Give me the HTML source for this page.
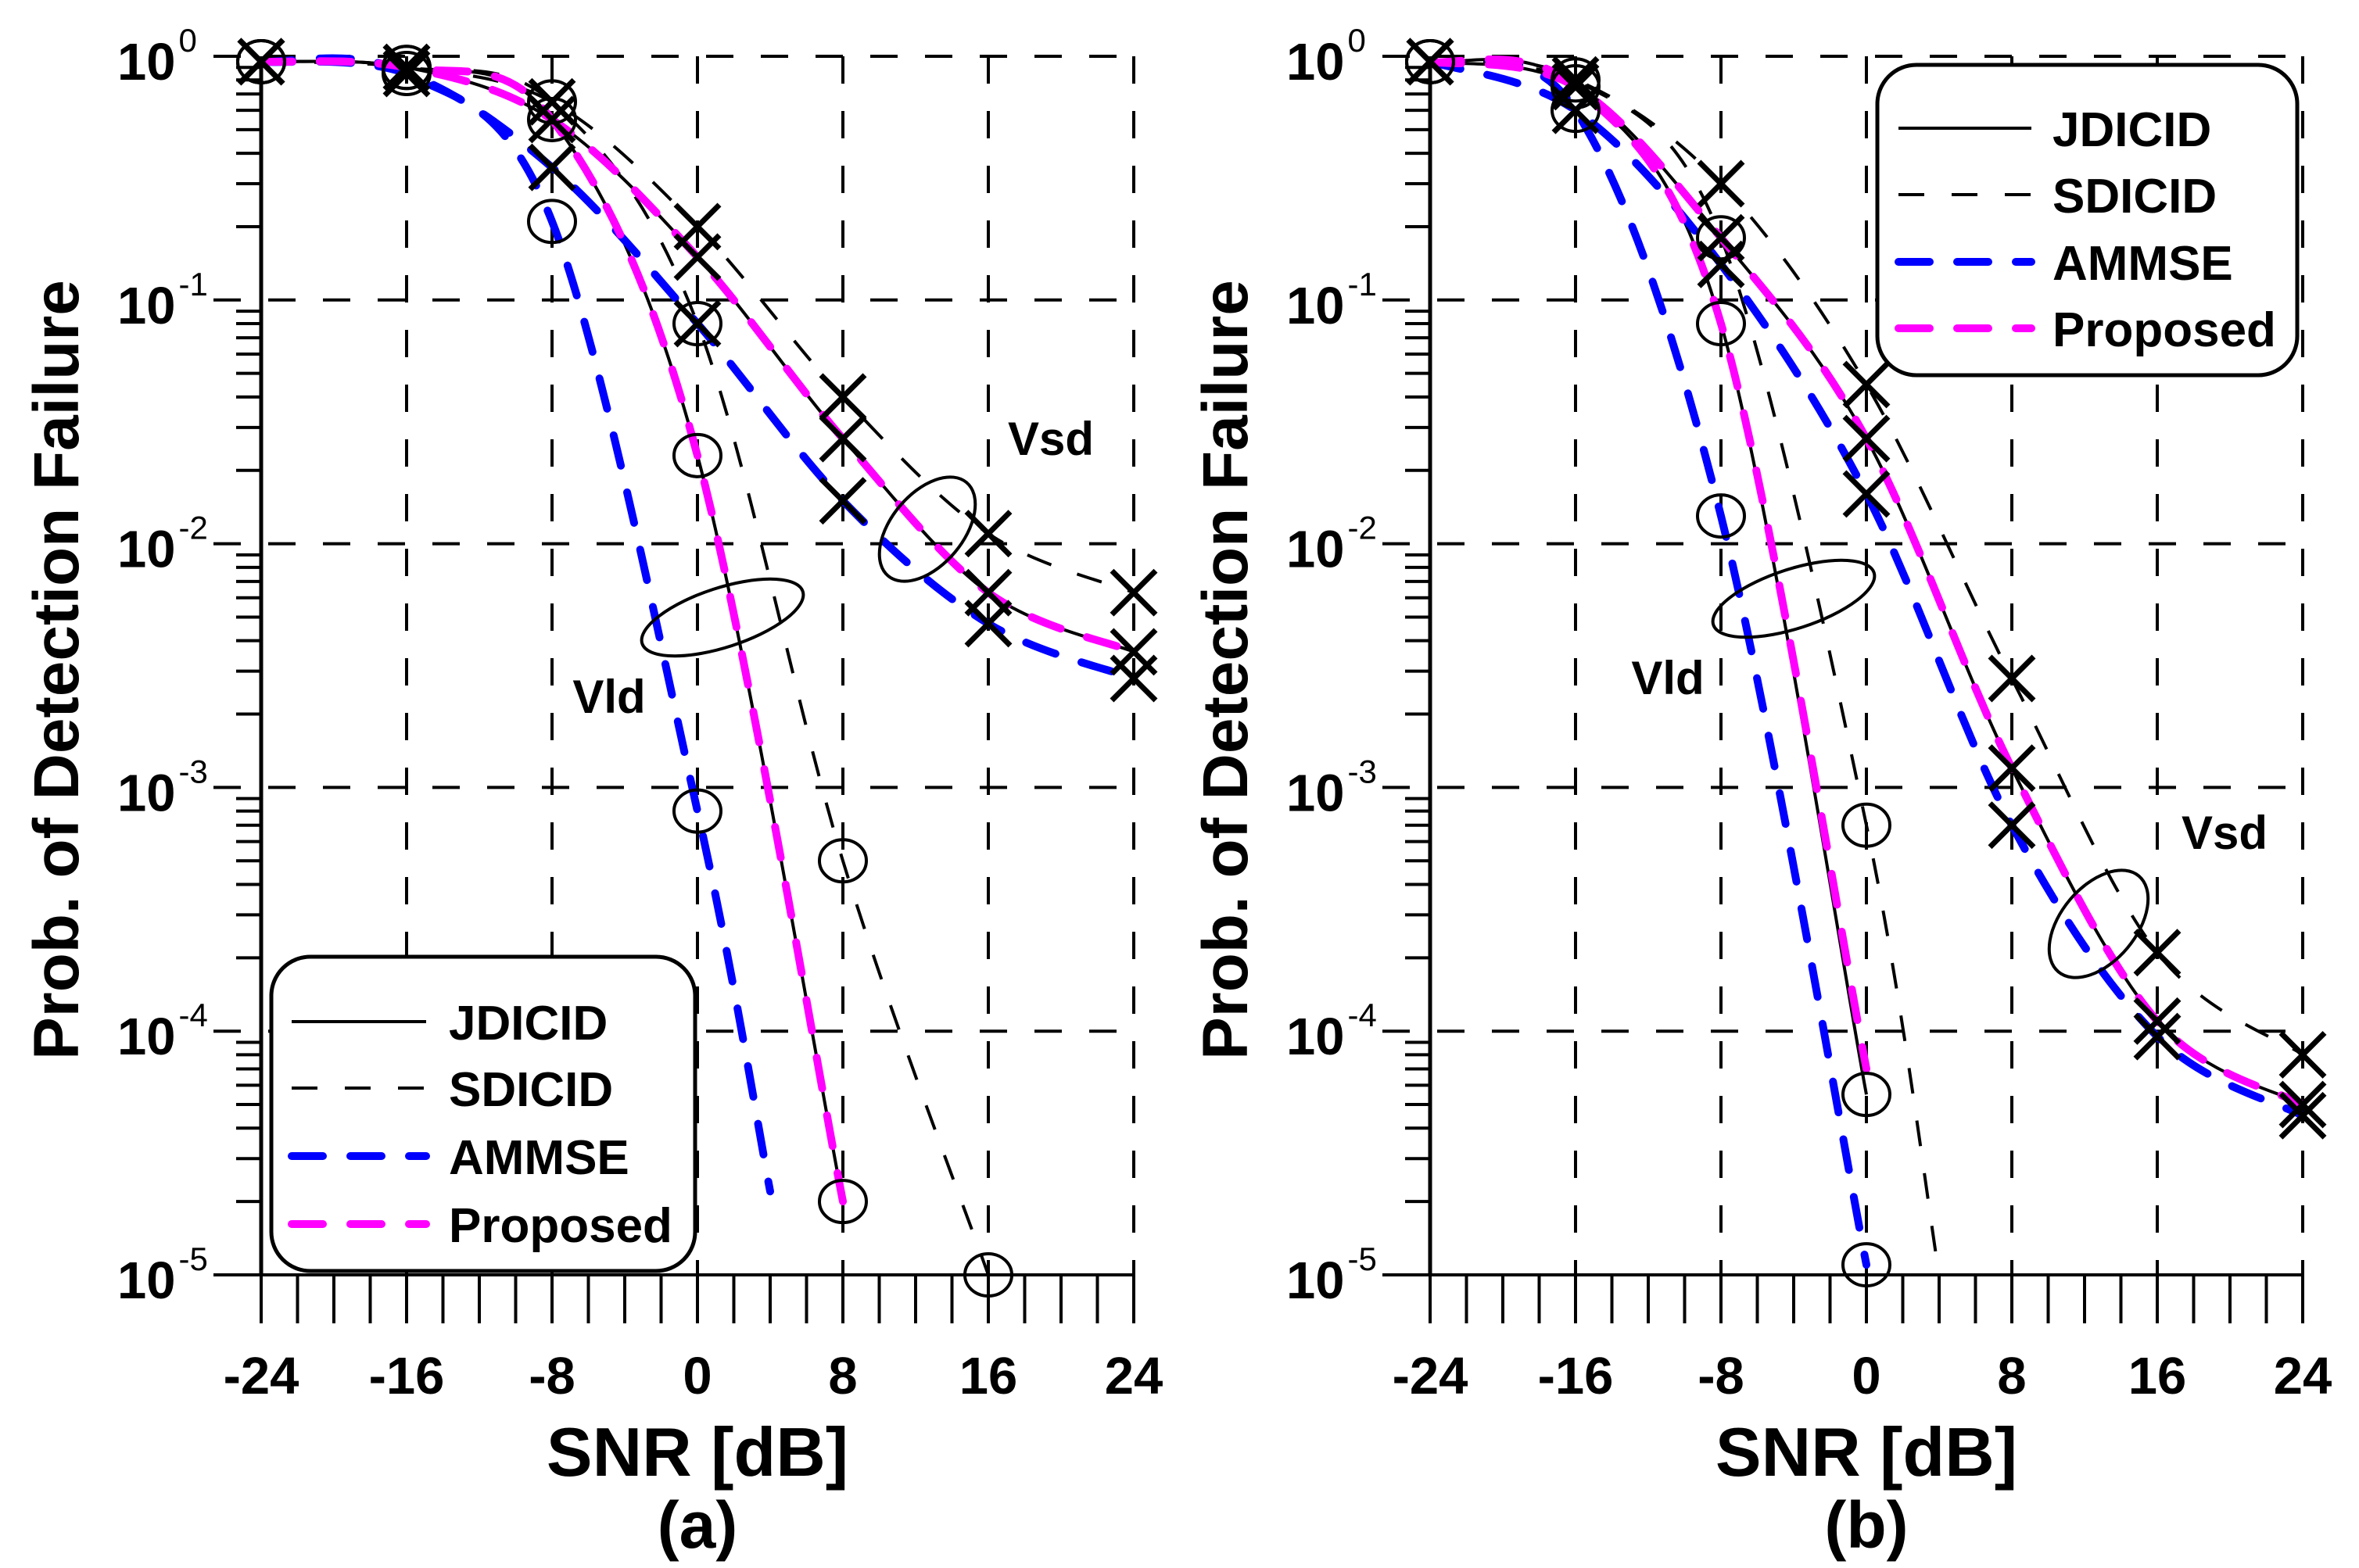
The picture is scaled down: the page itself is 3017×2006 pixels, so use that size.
<!DOCTYPE html>
<html><head><meta charset="utf-8"><style>
html,body{margin:0;padding:0;background:#fff}
svg{display:block}
text{font-family:"Liberation Sans",Arial,sans-serif;font-weight:bold;fill:#000}
</style></head><body>
<svg id="chart" xmlns="http://www.w3.org/2000/svg" width="3017" height="2006" viewBox="0 0 3017 2006">
<g id="panels"></g>
</svg>
<script>
// ---------- data ----------
const xTicks = [-24,-16,-8,0,8,16,24];
const yDecades = [0,-1,-2,-3,-4,-5];
const legendLabels = ["JDICID","SDICID","AMMSE","Proposed"];

// Panel (a)
const aVldJX = [-24,-16,-8,0,8];
const aVldJY = [0.95,0.9,0.55,0.023,2e-5];
const aVldSX = [-24,-16,-8,0,8,16];
const aVldSY = [0.95,0.9,0.65,0.08,5e-4,1e-5];
const aVldAX = [-24,-16,-8,0,4];
const aVldAY = [0.95,0.85,0.21,8e-4,2.2e-5];
const aVsdX = [-24,-16,-8,0,8,16,24];
const aVsdJY = [0.95,0.9,0.55,0.15,0.027,0.0063,0.0036];
const aVsdSY = [0.95,0.9,0.65,0.2,0.04,0.011,0.0063];
const aVsdAY = [0.95,0.85,0.35,0.08,0.015,0.0047,0.0028];

// Panel (b)
const bVldJX = [-24,-16,-8,0];
const bVldJY = [0.95,0.75,0.08,5.5e-5];
const bVldPY = [0.95,0.75,0.08,7e-5];
const bVldSX = [-24,-16,-8,0,4];
const bVldSY = [0.95,0.8,0.18,7e-4,1e-5];
const bVldAX = [-24,-16,-8,0];
const bVldAY = [0.95,0.6,0.013,1.1e-5];
const bVsdX = [-24,-16,-8,0,8,16,24];
const bVsdJY = [0.95,0.75,0.18,0.027,0.0012,1.1e-4,5e-5];
const bVsdSY = [0.95,0.8,0.3,0.045,0.0028,2.1e-4,8e-5];
const bVsdAY = [0.95,0.6,0.14,0.016,7e-4,9.5e-5,4.5e-5];

// ---------- drawing ----------
const NS="http://www.w3.org/2000/svg";
const root=document.getElementById('panels');
function mk(tag,attrs,parent){const e=document.createElementNS(NS,tag);for(const k in attrs)e.setAttribute(k,attrs[k]);(parent||root).appendChild(e);return e;}

const Y0=72, Y5=1631;
function makeScales(x0){
  return {
    x:v=>x0+(v+24)*(1116/48),
    y:v=>Y0+(-Math.log10(v))*(Y5-Y0)/5,
    yl:d=>Y0+(-d)*(Y5-Y0)/5
  };
}
function smoothPath(pts){
  let d="M"+pts[0][0].toFixed(1)+","+pts[0][1].toFixed(1);
  for(let i=0;i<pts.length-1;i++){
    const p0=pts[i-1]||pts[i],p1=pts[i],p2=pts[i+1],p3=pts[i+2]||p2;
    const c1=[p1[0]+(p2[0]-p0[0])/6,p1[1]+(p2[1]-p0[1])/6];
    const c2=[p2[0]-(p3[0]-p1[0])/6,p2[1]-(p3[1]-p1[1])/6];
    d+=" C"+c1[0].toFixed(1)+","+c1[1].toFixed(1)+" "+c2[0].toFixed(1)+","+c2[1].toFixed(1)+" "+p2[0].toFixed(1)+","+p2[1].toFixed(1);
  }
  return d;
}
const styles={
  J:{stroke:"#000","stroke-width":4},
  S:{stroke:"#000","stroke-width":4,"stroke-dasharray":"33 35"},
  A:{stroke:"#0000ff","stroke-width":10,"stroke-dasharray":"40 35","stroke-linecap":"round"},
  P:{stroke:"#ff00ff","stroke-width":10,"stroke-dasharray":"40 35","stroke-linecap":"round"}
};
function series(g,sc,xs,ys,st,name){
  const pts=xs.map((x,i)=>[sc.x(x),sc.y(ys[i])]);
  const p=mk('path',Object.assign({d:smoothPath(pts),fill:"none"},styles[st]),g);
  
  
}
function circles(g,sc,xs,ys,name){
  xs.forEach((x,i)=>{
    const c=mk('ellipse',{cx:sc.x(x),cy:sc.y(ys[i]),rx:30,ry:27,fill:"none",stroke:"#000","stroke-width":4},g);
    
    
  });
}
function crosses(g,sc,xs,ys,name){
  xs.forEach((x,i)=>{
    const cx=sc.x(x),cy=sc.y(ys[i]),r=28;
    const p=mk('path',{d:`M${cx-r},${cy-r}L${cx+r},${cy+r}M${cx-r},${cy+r}L${cx+r},${cy-r}`,stroke:"#000","stroke-width":7,fill:"none"},g);
    
    
  });
}
function axes(g,sc,x0,label,titleX){
  const x24=sc.x(24);
  yDecades.forEach(d=>{
    const y=sc.yl(d);
    if(d===-5){
      const l=mk('line',{x1:x0-61,x2:x24,y1:y,y2:y,stroke:"#000","stroke-width":4},g);
      
    }else{
      const l=mk('line',{x1:x0-61,x2:x24,y1:y,y2:y,stroke:"#000","stroke-width":4,"stroke-dasharray":"35 35"},g);
      
    }
    const t=mk('text',{x:x0-184,y:y+30,"font-size":67},g);
    
    t.textContent="10";
    const s=mk('tspan',{dx:4,dy:-36,"font-size":42,"font-weight":"normal"},t);
    s.textContent=String(d);
    if(d>-5){
      for(let m=2;m<=9;m++){
        const yy=y+Math.log10(10/m)*(Y5-Y0)/5;
        const mt=mk('line',{x1:x0-32,x2:x0,y1:yy,y2:yy,stroke:"#000","stroke-width":4},g);
        
      }
    }
  });
  xTicks.forEach(v=>{
    if(v===-24)return;
    const x=sc.x(v);
    const l=mk('line',{x1:x,x2:x,y1:Y0,y2:Y5,stroke:"#000","stroke-width":4,"stroke-dasharray":"35 35"},g);
    
  });
  const ya=mk('line',{x1:x0,x2:x0,y1:Y0,y2:Y5,stroke:"#000","stroke-width":5},g);
  
  for(let v=-24;v<=24;v+=2){
    const x=sc.x(v);
    const tk=mk('line',{x1:x,x2:x,y1:Y5,y2:Y5+62,stroke:"#000","stroke-width":4},g);
    
  }
  xTicks.forEach(v=>{
    const t=mk('text',{x:sc.x(v),y:1783,"font-size":67,"text-anchor":"middle"},g);
    
    t.textContent=String(v);
  });
  const xt=mk('text',{x:sc.x(0),y:1888,"font-size":88,"text-anchor":"middle"},g);
  
  xt.textContent="SNR [dB]";
  const pl=mk('text',{x:sc.x(0),y:1980,"font-size":84,"text-anchor":"middle"},g);
  
  pl.textContent=label;
  const yt=mk('text',{x:0,y:0,"font-size":82,"text-anchor":"middle",transform:`translate(${titleX},857) rotate(-90)`},g);
  
  yt.textContent="Prob. of Detection Failure";
}
function legend(g,bx,by,bw,bh,ys,lx1,lx2,tx){
  const lg=mk('g',{},g);
  
  const r=mk('rect',{x:bx,y:by,width:bw,height:bh,rx:50,ry:50,fill:"#fff",stroke:"#000","stroke-width":5},lg);
  
  const keys=["J","S","A","P"];
  legendLabels.forEach((lab,i)=>{
    const e=mk('g',{},lg);
    
    
    mk('line',Object.assign({x1:lx1,x2:lx2,y1:ys[i],y2:ys[i]},styles[keys[i]]),e);
    const t=mk('text',{x:tx,y:ys[i]+23,"font-size":62},e);
    t.textContent=lab;
  });
}
function ann(g,cx,cy,rx,ry,rot,name){
  const e=mk('ellipse',{cx,cy,rx,ry,fill:"none",stroke:"#000","stroke-width":4,transform:`rotate(${rot} ${cx} ${cy})`},g);
  
}
function label(g,x,y,txt,name){
  const t=mk('text',{x,y,"font-size":60,"text-anchor":"middle"},g);
  
  t.textContent=txt;
}

// Panel a
{
  const g=mk('g',{});
  
  
  const x0=334, sc=makeScales(x0);
  axes(g,sc,x0,"(a)",100);
  series(g,sc,aVldSX,aVldSY,"S","vld-sdicid-line");
  series(g,sc,aVsdX,aVsdSY,"S","vsd-sdicid-line");
  series(g,sc,aVldJX,aVldJY,"J","vld-jdicid-line");
  series(g,sc,aVsdX,aVsdJY,"J","vsd-jdicid-line");
  series(g,sc,aVldAX,aVldAY,"A","vld-ammse-line");
  series(g,sc,aVsdX,aVsdAY,"A","vsd-ammse-line");
  series(g,sc,aVldJX,aVldJY,"P","vld-proposed-line");
  series(g,sc,aVsdX,aVsdJY,"P","vsd-proposed-line");
  circles(g,sc,aVldJX,aVldJY,"vld-jdicid");
  circles(g,sc,aVldSX,aVldSY,"vld-sdicid");
  circles(g,sc,aVldAX.slice(0,4),aVldAY.slice(0,4),"vld-ammse");
  crosses(g,sc,aVsdX,aVsdJY,"vsd-jdicid");
  crosses(g,sc,aVsdX,aVsdSY,"vsd-sdicid");
  crosses(g,sc,aVsdX,aVsdAY,"vsd-ammse");
  ann(g,924,790,108,38,-18,"vld-ellipse");
  ann(g,1186,677,78,46,-50,"vsd-ellipse");
  label(g,1344,582,"Vsd","vsd-label");
  label(g,779,912,"Vld","vld-label");
  legend(g,347,1224,542,402,[1307,1392,1479,1566],373,545,574);
}
// Panel b
{
  const g=mk('g',{});
  
  
  const x0=1829, sc=makeScales(x0);
  axes(g,sc,x0,"(b)",1595);
  series(g,sc,bVldSX,bVldSY,"S","vld-sdicid-line");
  series(g,sc,bVsdX,bVsdSY,"S","vsd-sdicid-line");
  series(g,sc,bVldJX,bVldJY,"J","vld-jdicid-line");
  series(g,sc,bVsdX,bVsdJY,"J","vsd-jdicid-line");
  series(g,sc,bVldAX,bVldAY,"A","vld-ammse-line");
  series(g,sc,bVsdX,bVsdAY,"A","vsd-ammse-line");
  series(g,sc,bVldJX,bVldPY,"P","vld-proposed-line");
  series(g,sc,bVsdX,bVsdJY,"P","vsd-proposed-line");
  circles(g,sc,bVldJX,bVldJY,"vld-jdicid");
  circles(g,sc,bVldSX.slice(0,4),bVldSY.slice(0,4),"vld-sdicid");
  circles(g,sc,bVldAX,bVldAY,"vld-ammse");
  crosses(g,sc,bVsdX,bVsdJY,"vsd-jdicid");
  crosses(g,sc,bVsdX,bVsdSY,"vsd-sdicid");
  crosses(g,sc,bVsdX,bVsdAY,"vsd-ammse");
  ann(g,2294,766,108,38,-18,"vld-ellipse");
  ann(g,2684,1182,80,48,-50,"vsd-ellipse");
  label(g,2133,888,"Vld","vld-label");
  label(g,2845,1086,"Vsd","vsd-label");
  legend(g,2401,83,537,397,[164,249,335,420],2428,2598,2625);
}
</script>
</body></html>
